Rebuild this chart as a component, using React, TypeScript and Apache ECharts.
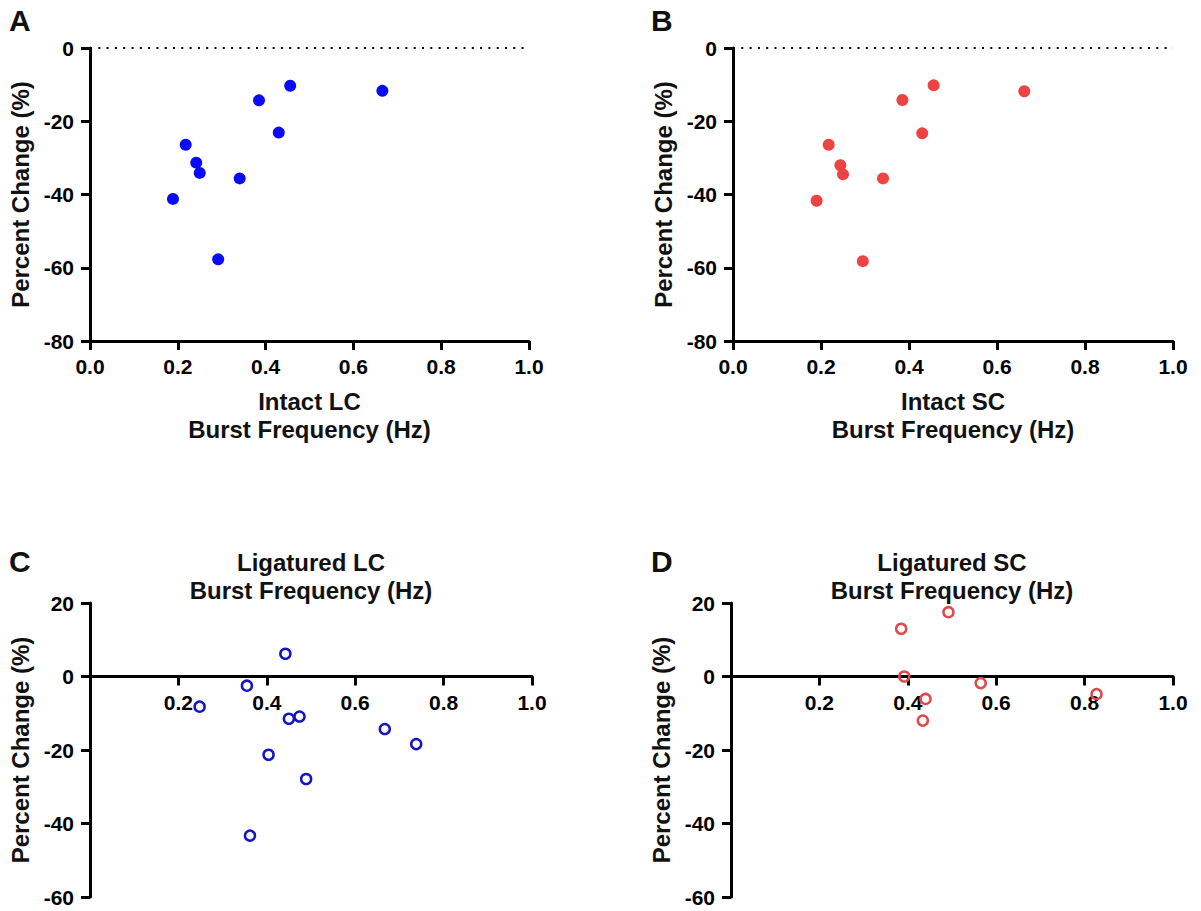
import React, { useEffect, useRef } from "react";
import * as echarts from "echarts";

// Panel A: Intact LC
const intactLCFreq = [0.189, 0.218, 0.242, 0.25, 0.292, 0.341, 0.385, 0.43, 0.456, 0.666];
const intactLCChange = [-41.2, -26.4, -31.3, -34.1, -57.7, -35.6, -14.3, -23.1, -10.3, -11.7];
// Panel B: Intact SC
const intactSCFreq = [0.19, 0.2175, 0.244, 0.25, 0.295, 0.341, 0.385, 0.43, 0.456, 0.662];
const intactSCChange = [-41.7, -26.4, -32.0, -34.5, -58.2, -35.6, -14.2, -23.3, -10.2, -11.8];
// Panel C: Ligatured LC
const ligLCFreq = [0.248, 0.355, 0.442, 0.45, 0.474, 0.404, 0.489, 0.362, 0.667, 0.738];
const ligLCChange = [-8.2, -2.5, 6.2, -11.5, -10.9, -21.3, -27.9, -43.3, -14.3, -18.4];
// Panel D: Ligatured SC
const ligSCFreq = [0.385, 0.492, 0.392, 0.44, 0.434, 0.565, 0.827];
const ligSCChange = [13.0, 17.5, 0.0, -6.1, -12.0, -1.8, -4.8];
// Reference line at zero (panels A, B)
const zeroLineX = [0, 1];
const zeroLineY = [0, 0];

const FONT = "'Liberation Sans', Arial, Helvetica, sans-serif";
const zip = (xs: number[], ys: number[]) => xs.map((x, i) => [x, ys[i]]);

const axisCommon = {
  axisLine: { show: true, onZero: false, lineStyle: { color: "#000", width: 3 } },
  axisTick: { show: true, length: 9, lineStyle: { color: "#000", width: 3 } },
  splitLine: { show: false },
  axisLabel: { color: "#000", fontSize: 21, fontWeight: "bold", fontFamily: FONT },
  nameTextStyle: { color: "#111", fontSize: 24, fontWeight: "bold", fontFamily: FONT, lineHeight: 28 },
};

export default function App() {
  const ref = useRef<HTMLDivElement>(null);
  useEffect(() => {
    if (!ref.current) return;
    const chart = echarts.init(ref.current, null, { renderer: "svg" });
    const grids = [
      { left: 90, top: 48, width: 439, height: 293 },
      { left: 733, top: 48, width: 440, height: 293 },
      { left: 90, top: 603, width: 442, height: 294 },
      { left: 731, top: 603, width: 442, height: 294 },
    ];
    const xFmt = (v: number) => v.toFixed(1);
    const xFmtNoZero = (v: number) => (v === 0 ? "" : v.toFixed(1));
    const xAxes = [0, 1, 2, 3].map((i) => ({
      ...axisCommon,
      type: "value",
      gridIndex: i,
      position: "bottom",
      // panels C and D: x axis crosses at y = 0, i.e. 60/80 of the height above the bottom
      offset: i < 2 ? 0 : -grids[i].height * 0.75,
      min: 0,
      max: 1,
      interval: 0.2,
      axisLabel: { ...axisCommon.axisLabel, margin: 15, formatter: i < 2 ? xFmt : xFmtNoZero },
      name: i === 0 ? "Intact LC\nBurst Frequency (Hz)" : i === 1 ? "Intact SC\nBurst Frequency (Hz)" : "",
      nameLocation: "middle",
      nameGap: 46,
    }));
    const yAxes = [0, 1, 2, 3].map((i) => ({
      ...axisCommon,
      type: "value",
      gridIndex: i,
      min: i < 2 ? -80 : -60,
      max: i < 2 ? 0 : 20,
      interval: 20,
      axisLabel: { ...axisCommon.axisLabel, margin: 16 },
      name: "Percent Change (%)",
      nameLocation: "middle",
      nameGap: 56,
    }));
    const letter = (t: string, left: number, top: number) => ({
      type: "text",
      left,
      top,
      style: { text: t, font: `bold 30px ${FONT}`, fill: "#111" },
    });
    const topTitle = (t: string, x: number) => ({
      type: "text",
      x,
      y: 548,
      style: {
        text: t,
        font: `bold 24px ${FONT}`,
        lineHeight: 28,
        fill: "#111",
        align: "center",
        verticalAlign: "top",
      },
    });
    const zeroLine = (i: number) => ({
      type: "line",
      xAxisIndex: i,
      yAxisIndex: i,
      data: zip(zeroLineX, zeroLineY),
      symbol: "none",
      silent: true,
      clip: false,
      z: 1,
      lineStyle: { color: "#000", type: [2, 6.3], width: 2.2 },
    });
    const option = {
      animation: false,
      backgroundColor: "#fff",
      grid: grids,
      xAxis: xAxes,
      yAxis: yAxes,
      graphic: [
        letter("A", 9, 5),
        letter("B", 651, 5),
        letter("C", 9, 546),
        letter("D", 651, 546),
        topTitle("Ligatured LC\nBurst Frequency (Hz)", 311),
        topTitle("Ligatured SC\nBurst Frequency (Hz)", 952),
      ],
      series: [
        zeroLine(0),
        zeroLine(1),
        {
          type: "scatter",
          xAxisIndex: 0,
          yAxisIndex: 0,
          data: zip(intactLCFreq, intactLCChange),
          symbol: "circle",
          symbolSize: 12,
          z: 3,
          itemStyle: { color: "#0a0af5", opacity: 1 },
        },
        {
          type: "scatter",
          xAxisIndex: 1,
          yAxisIndex: 1,
          data: zip(intactSCFreq, intactSCChange),
          symbol: "circle",
          symbolSize: 12,
          z: 3,
          itemStyle: { color: "#ec4343", opacity: 1 },
        },
        {
          type: "scatter",
          xAxisIndex: 2,
          yAxisIndex: 2,
          data: zip(ligLCFreq, ligLCChange),
          symbol: "circle",
          symbolSize: 10,
          z: 3,
          itemStyle: { color: "rgba(255,255,255,0)", borderColor: "#1515c0", borderWidth: 2.5, opacity: 1 },
        },
        {
          type: "scatter",
          xAxisIndex: 3,
          yAxisIndex: 3,
          data: zip(ligSCFreq, ligSCChange),
          symbol: "circle",
          symbolSize: 10,
          z: 3,
          itemStyle: { color: "rgba(255,255,255,0)", borderColor: "#dc4a4a", borderWidth: 2.5, opacity: 1 },
        },
      ],
    };
    chart.setOption(option as any);
    return () => chart.dispose();
  }, []);
  return (
    <div
      ref={ref}
      style={{ position: "fixed", left: 0, top: 0, width: 1201, height: 911, background: "#fff" }}
    />
  );
}
